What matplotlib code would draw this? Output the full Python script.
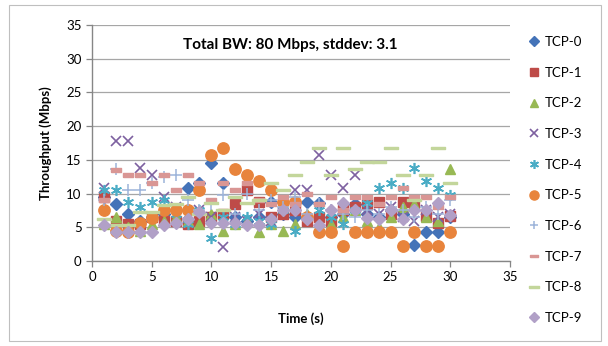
import numpy as np
import matplotlib
matplotlib.use("Agg")
import matplotlib.pyplot as plt
from matplotlib.patches import Rectangle

plt.rcParams['font.family'] = ['Lato', 'DejaVu Sans']

# time axis (s)
time_s = list(range(1, 31))

# throughput per flow (Mbps)
tcp0 = [9.5, 8.5, 7.0, 6.0, 6.5, 7.0, 7.5, 10.8, 11.5, 14.5, 11.5, 6.5, 6.0, 6.5, 8.8, 7.0, 6.5, 8.8, 8.6, 6.5,
        7.0, 8.5, 7.0, 6.5, 7.5, 7.0, 2.4, 4.3, 4.3, 6.5]
tcp1 = [9.5, 6.0, 5.5, 5.5, 6.5, 6.0, 6.0, 5.5, 6.0, 6.5, 7.0, 8.5, 10.5, 8.8, 6.5, 7.0, 7.5, 6.0, 6.5, 6.0,
        7.5, 8.0, 8.5, 8.8, 7.0, 8.8, 8.5, 6.6, 5.6, 6.6]
tcp2 = [5.5, 6.5, 5.0, 4.5, 5.5, 6.0, 6.5, 6.0, 5.5, 7.0, 4.5, 5.5, 6.0, 4.3, 5.5, 4.5, 5.5, 7.0, 5.0, 5.5,
        6.5, 7.5, 6.0, 5.0, 6.5, 8.0, 8.5, 6.5, 6.0, 13.7]
tcp3 = [10.8, 17.8, 17.8, 13.8, 12.8, 9.5, 8.0, 7.0, 7.5, 6.5, 2.1, 6.5, 6.0, 7.0, 6.0, 8.5, 10.5, 10.5, 15.7, 12.8,
        10.8, 12.8, 7.5, 7.0, 8.0, 6.5, 6.0, 7.5, 6.5, 7.0]
tcp4 = [10.5, 10.5, 8.8, 8.0, 8.8, 9.0, 7.0, 5.5, 7.5, 3.4, 6.5, 5.5, 6.5, 6.0, 5.5, 7.5, 4.5, 6.5, 7.5, 6.5,
        5.5, 7.5, 8.6, 10.8, 11.5, 10.8, 13.8, 11.8, 10.8, 9.8]
tcp5 = [7.6, 4.5, 4.35, 5.6, 6.4, 7.6, 7.6, 7.6, 10.5, 15.7, 16.8, 13.7, 12.8, 11.8, 10.5, 8.8, 8.8, 6.5, 4.35, 4.35,
        2.2, 4.35, 4.35, 4.35, 4.35, 2.2, 4.35, 2.2, 2.2, 4.35]
tcp6 = [9.0, 13.7, 10.5, 10.5, 11.5, 12.5, 12.8, 9.0, 7.5, 8.5, 9.8, 7.0, 10.0, 7.5, 9.0, 8.0, 9.5, 7.0, 8.5, 7.5,
        7.0, 6.5, 7.5, 7.0, 8.0, 7.5, 6.5, 8.0, 7.0, 9.0]
tcp7 = [9.0, 13.5, 12.8, 12.8, 11.5, 12.8, 10.5, 12.8, 11.5, 9.0, 11.5, 10.5, 11.5, 9.0, 8.5, 9.5, 8.5, 10.0, 8.5, 9.5,
        7.5, 9.5, 9.5, 8.5, 9.5, 10.8, 9.5, 9.5, 8.0, 9.5]
tcp8 = [6.3, 5.3, 5.3, 7.3, 7.3, 8.3, 8.5, 9.5, 7.0, 8.6, 7.5, 9.5, 8.6, 9.0, 11.5, 10.5, 12.8, 14.7, 16.7, 12.8,
        16.7, 13.7, 14.7, 14.7, 16.7, 12.8, 9.0, 12.8, 16.7, 11.5]
tcp9 = [5.3, 4.35, 4.35, 4.35, 4.35, 5.3, 5.6, 6.2, 7.2, 5.6, 5.6, 5.6, 5.3, 5.3, 6.3, 7.5, 7.5, 6.3, 5.3, 7.6,
        8.6, 7.6, 6.4, 6.3, 7.6, 6.3, 7.6, 7.6, 8.6, 6.8]

series = [tcp0, tcp1, tcp2, tcp3, tcp4, tcp5, tcp6, tcp7, tcp8, tcp9]
labels = ['TCP-%d' % i for i in range(10)]

colors = ['#4473B8', '#BE4B48', '#98B954', '#7D60A0', '#4AACC5', '#E8843C',
          '#9DB4DA', '#D99694', '#C3D69B', '#B1A0C7']

short_dash = [(-1, -0.35), (1, -0.35), (1, 0.35), (-1, 0.35), (-1, -0.35)]
long_dash = [(-1, -0.2), (1, -0.2), (1, 0.2), (-1, 0.2), (-1, -0.2)]
styles = [
    dict(marker='D', ms=6.2),
    dict(marker='s', ms=6.8),
    dict(marker='^', ms=7.8),
    dict(marker='x', ms=7.5, mew=1.2),
    dict(marker=(6, 2, 0), ms=8, mew=1.2),
    dict(marker='o', ms=8.2),
    dict(marker='+', ms=8, mew=1.1),
    dict(marker=short_dash, ms=7),
    dict(marker=long_dash, ms=9.5),
    dict(marker='D', ms=6.2),
]

fig = plt.figure(figsize=(6.08, 3.46), dpi=100)
fig.patches.append(Rectangle((9 / 608, 5 / 346), 592 / 608, 336 / 346, transform=fig.transFigure,
                             fill=False, edgecolor='#BFBFBF', linewidth=0.8))

ax = fig.add_axes([92 / 608, 1 - 261 / 346, 418 / 608, 236 / 346])

for vals, lab, c, st in zip(series, labels, colors, styles):
    ax.plot(time_s, vals, linestyle='none', color=c, mec=c, mfc=c, label=lab, **st)

ax.set_xlim(0, 35)
ax.set_ylim(0, 35)
ax.set_xticks(np.arange(0, 36, 5))
ax.set_yticks(np.arange(0, 36, 5))
ax.grid(axis='y', color='#A6A6A6', linewidth=0.9)
ax.set_axisbelow(True)
for s in ['top', 'right']:
    ax.spines[s].set_visible(False)
for s in ['left', 'bottom']:
    ax.spines[s].set_color('#868686')
    ax.spines[s].set_linewidth(1.0)
ax.tick_params(colors='#868686', labelcolor='black', labelsize=9.5, length=4, width=0.9)

ax.set_xlabel('Time (s)', fontsize=9.5, fontweight='bold', labelpad=21)
ax.set_ylabel('Throughput (Mbps)', fontsize=9.5, fontweight='bold', labelpad=10)
ax.text(0.474, 0.915, 'Total BW: 80 Mbps, stddev: 3.1', transform=ax.transAxes,
        ha='center', va='center', fontsize=11, fontweight='bold')

leg = ax.legend(loc='upper left', bbox_to_anchor=(1.03, 0.976), frameon=False, fontsize=9.5,
                labelspacing=1.415, handlelength=1.0, handletextpad=0.3, borderaxespad=0,
                markerscale=0.8)

fig.savefig('out.png', dpi=100)
